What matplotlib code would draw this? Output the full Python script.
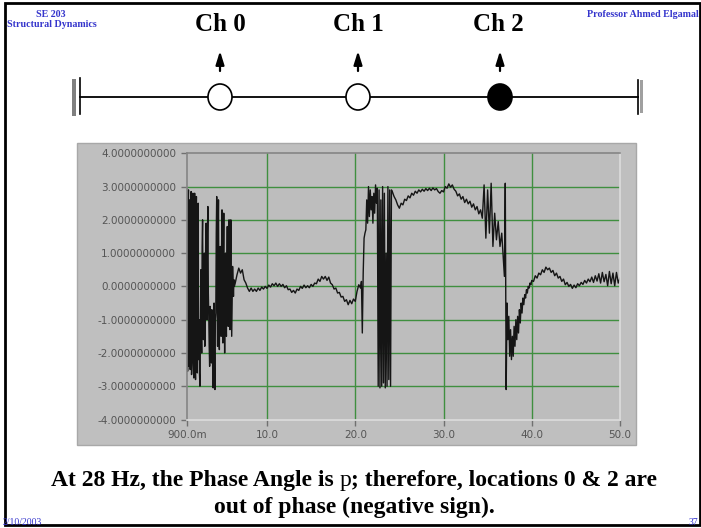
import matplotlib.pyplot as plt
import numpy as np
from matplotlib.patches import Rectangle, Ellipse

# phase angle (rad), in segments of uniform frequency spacing
# segment: (start Hz, step Hz, values)
seg_a = (0.9, 0.05, [
    2.95, -1.80, -2.55, 2.40, 2.90, -2.40, 0.30, 2.60, -2.50, 0.80,
    2.85, -2.65, -2.30, 2.20, 2.80, -1.50, -2.75, 1.40, 2.80, -2.20,
    -2.80, 1.80, 2.70, -2.00, -2.60, 2.00, 2.50, -2.20, -1.00, -2.60,
    -3.00, -1.50, 0.50, -1.20, -2.00, 1.20, 2.00, -0.80, -1.60, 0.40,
    1.00, -1.80, -1.40, 1.20, 1.90, -0.60, -1.00, 1.60, 2.40, -0.20,
    -0.90, -1.80, -2.40, -0.60, -1.00, -2.00, -2.30, -0.70, -1.20, -2.60,
    -3.05, -1.40, -0.50, -2.40, -3.10, -1.00, -0.80, 1.60, 2.70, -0.40,
    -1.80, 1.40, 2.60, -0.80, -1.90, 0.20, 1.20, -1.00, -1.50, 1.00,
    2.30, -0.40, -1.70, 0.80, 2.20, -0.60, -2.00, -0.40, 1.00, -0.80,
    -1.50, 0.60, 1.80, -0.20, -1.20, 0.40, 2.00, -0.40, -1.30, 0.60,
    2.00, 0.20, -1.50, -0.40, 0.60, 0.10, -0.30, 0.20, 0.00])
seg_b = (6.4, 0.2, [
    0.10, 0.35, 0.55, 0.40, 0.50, 0.20, 0.10, -0.05, -0.15, -0.05,
    -0.15, -0.08, -0.15, -0.05, -0.12, -0.02, -0.08, 0.00, -0.06, 0.04,
    -0.02, 0.08, 0.02, 0.10, 0.00, 0.08, 0.00, 0.06, -0.04, 0.02,
    -0.10, -0.08, -0.18, -0.12, -0.20, -0.08, -0.12, 0.00, -0.06, 0.04,
    -0.04, 0.02, -0.04, 0.06, 0.00, 0.10, 0.08, 0.22, 0.15, 0.30,
    0.22, 0.30, 0.18, 0.28, 0.10, 0.05, -0.08, -0.05, -0.20, -0.18,
    -0.32, -0.30, -0.45, -0.40, -0.55, -0.42, -0.52, -0.38, -0.45, -0.15,
    0.05, -0.05])
seg_c = (20.7, 0.1, [
    0.15, -1.40, 0.40, 1.45, 1.60, 1.70, 2.60, 1.90, 3.00, 2.10,
    2.90, 2.30, 2.70, 1.90, 2.80, 2.20, 3.05, 2.50, 2.95, -3.00,
    2.90, -3.05, 2.60, -3.00, 3.00, -2.90, 2.80, -3.05, 1.00, -3.00,
    3.00, -2.80, 2.90, -3.00, 2.90])
seg_d = (24.2, 0.2, [
    2.85, 2.70, 2.60, 2.45, 2.35, 2.50, 2.45, 2.62, 2.58, 2.72,
    2.66, 2.80, 2.74, 2.86, 2.80, 2.90, 2.84, 2.92, 2.86, 2.94,
    2.88, 2.95, 2.88, 2.96, 2.90, 2.94, 2.85, 2.80, 2.88, 2.84,
    3.00, 2.95, 3.08, 2.98, 3.05, 2.92, 2.86, 2.72, 2.78, 2.62,
    2.70, 2.52, 2.62, 2.48, 2.56, 2.38, 2.48, 2.30, 2.40, 2.18,
    2.30, 2.05, 3.05, 1.45, 2.90, 1.60, 3.10, 1.20, 2.20, 1.40,
    1.95, 1.20, 1.60, 0.70])
seg_e = (36.9, 0.1, [
    0.30, 3.10, -3.10, -0.50, -1.60, -0.90, -2.10, -1.30, -2.20, -1.50,
    -2.10, -1.20, -1.80, -1.00, -1.60, -0.90, -1.40, -0.70, -1.10, -0.50,
    -0.80, -0.35, -0.55, -0.25, -0.35, -0.10, -0.20, 0.00, -0.05, 0.10,
    0.05])
seg_f = (40.0, 0.2, [
    0.18, 0.15, 0.32, 0.25, 0.40, 0.35, 0.50, 0.42, 0.58, 0.50,
    0.55, 0.42, 0.48, 0.32, 0.40, 0.25, 0.30, 0.15, 0.22, 0.05,
    0.12, 0.00, 0.06, -0.06, 0.04, -0.04, 0.08, 0.02, 0.12, 0.06,
    0.18, 0.10, 0.22, 0.14, 0.28, 0.12, 0.32, 0.16, 0.38, 0.10,
    0.42, 0.14, 0.36, 0.02, 0.45, 0.08, 0.40, 0.02, 0.42, 0.10,
    0.25])

freq = []
phase = []
for start, step, vals in [seg_a, seg_b, seg_c, seg_d, seg_e, seg_f]:
    freq.extend(start + step * np.arange(len(vals)))
    phase.extend(vals)

y_ticks = [-4, -3, -2, -1, 0, 1, 2, 3, 4]
x_ticks = [0.9, 10, 20, 30, 40, 50]
x_labels = ['900.0m', '10.0', '20.0', '30.0', '40.0', '50.0']
channels = ['Ch 0', 'Ch 1', 'Ch 2']

W, H = 701, 528
serif = 'Liberation Serif'
blue = '#3535cc'

fig = plt.figure(figsize=(W / 100, H / 100), dpi=100)
fig.patch.set_facecolor('white')

# pixel-coordinate overlay for the slide decorations
bg = fig.add_axes([0, 0, 1, 1])
bg.set_xlim(0, W)
bg.set_ylim(H, 0)
bg.axis('off')

bg.add_patch(Rectangle((5, 3), 695, 522, fill=False, ec='black', lw=2))
bg.text(51, 17, 'SE 203', ha='center', fontsize=7.2, family=serif, weight='bold', color=blue)
bg.text(7, 27, 'Structural Dynamics', ha='left', fontsize=7.2, family=serif, weight='bold', color=blue)
bg.text(699, 17, 'Professor Ahmed Elgamal', ha='right', fontsize=7.2, family=serif, weight='bold', color=blue)
bg.text(3, 525, '2/10/2003', ha='left', fontsize=7, family=serif, color=blue)
bg.text(698, 525, '37', ha='right', fontsize=7, family=serif, color=blue)

# beam with supports and sensor locations
bg.plot([80, 638], [97, 97], color='black', lw=1.3)
bg.add_patch(Rectangle((72, 79), 4, 37, color='#808080', lw=0))
bg.plot([80, 80], [78, 114], color='black', lw=1.2)
bg.plot([638, 638], [80, 114], color='black', lw=1.2)
bg.add_patch(Rectangle((640, 80), 3, 33, color='#a0a0a0', lw=0))
cx = [220, 358, 500]
for i, (x, name) in enumerate(zip(cx, channels)):
    fc = 'black' if i == 2 else 'white'
    bg.add_patch(Ellipse((x, 97), 24, 26, fc=fc, ec='black', lw=1.2, zorder=3))
    bg.annotate('', xy=(x, 51), xytext=(x, 71),
                arrowprops=dict(arrowstyle='-|>,head_length=0.8,head_width=0.25',
                                color='black', lw=1.6, shrinkA=0, shrinkB=0))
    bg.text(x - 2 if i == 2 else x, 31, name, ha='center', fontsize=18, family=serif, weight='bold')

# gray instrument panel
bg.add_patch(Rectangle((77, 143), 559, 302, fc='#bfbfbf', ec='#a8a8a8', lw=1))

ax = fig.add_axes([186.7 / W, 1 - 419.5 / H, 433.3 / W, 266.2 / H])
ax.set_facecolor('#bdbdbd')
for v in y_ticks[1:-1]:
    ax.axhline(v, color='#3f8f3f', lw=1, zorder=1)
for v in x_ticks[1:-1]:
    ax.axvline(v, color='#3f8f3f', lw=1, zorder=1)
ax.plot(freq, phase, color='#151515', lw=1.0, zorder=2)
ax.set_xlim(0.9, 50)
ax.set_ylim(-4, 4)
ax.set_yticks(y_ticks)
ax.set_yticklabels([f'{v:.10f}' for v in y_ticks])
ax.set_xticks(x_ticks)
ax.set_xticklabels(x_labels)
ax.tick_params(colors='#707070', labelcolor='#555555', labelsize=7.5, length=4, width=1)
ax.spines['top'].set_color('#858585')
ax.spines['left'].set_color('#858585')
ax.spines['bottom'].set_color('#dcdcdc')
ax.spines['right'].set_color('#dcdcdc')
for s in ax.spines.values():
    s.set_linewidth(1.2)

# caption, with the symbol-font "p" in regular weight
renderer = fig.canvas.get_renderer()
parts = [('At 28 Hz, the Phase Angle is ', 'bold'), ('p', 'normal'),
         ('; therefore, locations 0 & 2 are', 'bold')]
texts = [bg.text(0, 486, s, fontsize=17, family=serif, weight=w, ha='left') for s, w in parts]
widths = []
for t in texts:
    bb = t.get_window_extent(renderer)
    widths.append(bb.width)
x0 = 354 - sum(widths) / 2
for t, w in zip(texts, widths):
    t.set_x(x0)
    x0 += w
bg.text(354, 513, 'out of phase (negative sign).', ha='center', fontsize=17, family=serif, weight='bold')

fig.savefig('out.png', dpi=100)
